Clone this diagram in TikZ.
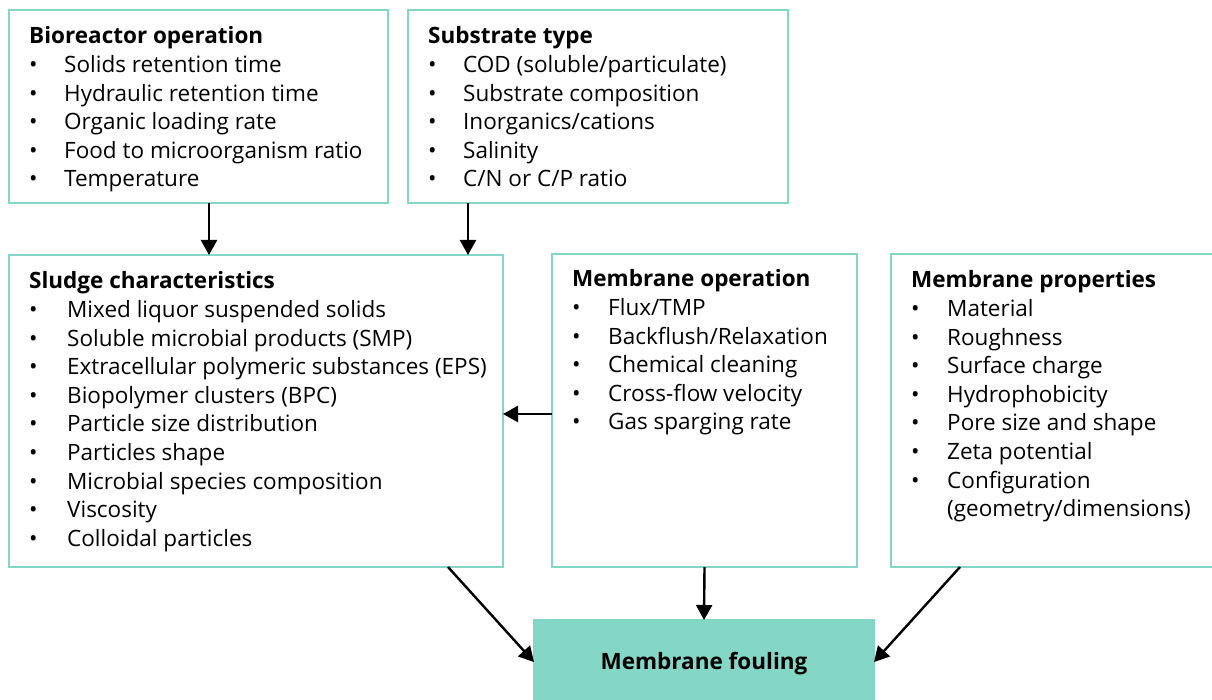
\documentclass[tikz,border=0pt]{standalone}
\usepackage{fontspec}
\setmainfont{Open Sans}
\usetikzlibrary{arrows.meta}
\definecolor{mfteal}{HTML}{84D7C7}
\newcommand\itm[1][35pt]{\makebox[#1][l]{•}\ignorespaces}
\begin{document}
\begin{tikzpicture}[x=1pt,y=-1pt,
  box/.style={draw=mfteal, line width=2pt, anchor=north west, inner sep=0pt, outer sep=0pt},
  txt/.style={anchor=base west, inner sep=0pt, font=\fontsize{22.5}{28.6}\selectfont},
  arr/.style={line width=2.4pt, -{Triangle[length=15pt,width=16pt]}}]
\useasboundingbox (0,0) rectangle (1212,700);
% boxes
\node[box, minimum width=379pt, minimum height=193pt] (bio) at (9,10) {};
\node[box, minimum width=380pt, minimum height=193pt] (sub) at (408,10) {};
\node[box, minimum width=494pt, minimum height=312pt] (sludge) at (9,255) {};
\node[box, minimum width=305pt, minimum height=313pt] (mop) at (552,254) {};
\node[box, minimum width=340pt, minimum height=313pt] (mprop) at (891,254) {};
\node[box, fill=mfteal, minimum width=340pt, minimum height=86pt] (foul) at (534,620) {};
\node[font=\fontsize{22.5}{26}\selectfont\bfseries, inner sep=0pt] (foult) at (704,664) {Membrane fouling};
% texts
\node[txt] (biot) at (29,44) {\begin{tabular}[t]{@{}l@{}}
\textbf{Bioreactor operation}\\
\itm Solids retention time\\
\itm Hydraulic retention time\\
\itm Organic loading rate\\
\itm Food to microorganism ratio\\
\itm Temperature
\end{tabular}};
\node[txt] (subt) at (428,44) {\begin{tabular}[t]{@{}l@{}}
\textbf{Substrate type}\\
\itm COD (soluble/particulate)\\
\itm Substrate composition\\
\itm Inorganics/cations\\
\itm Salinity\\
\itm C/N or C/P ratio
\end{tabular}};
\node[txt] (sludget) at (29,289) {\begin{tabular}[t]{@{}l@{}}
\textbf{Sludge characteristics}\\
\itm[38pt] Mixed liquor suspended solids\\
\itm[38pt] Soluble microbial products (SMP)\\
\itm[38pt] Extracellular polymeric substances (EPS)\\
\itm[38pt] Biopolymer clusters (BPC)\\
\itm[38pt] Particle size distribution\\
\itm[38pt] Particles shape\\
\itm[38pt] Microbial species composition\\
\itm[38pt] Viscosity\\
\itm[38pt] Colloidal particles
\end{tabular}};
\node[txt] (mopt) at (572,287) {\begin{tabular}[t]{@{}l@{}}
\textbf{Membrane operation}\\
\itm[36pt] Flux/TMP\\
\itm[36pt] Backflush/Relaxation\\
\itm[36pt] Chemical cleaning\\
\itm[36pt] Cross-flow velocity\\
\itm[36pt] Gas sparging rate
\end{tabular}};
\node[txt] (mpropt) at (911,288) {\begin{tabular}[t]{@{}l@{}}
\textbf{Membrane properties}\\
\itm[36pt] Material\\
\itm[36pt] Roughness\\
\itm[36pt] Surface charge\\
\itm[36pt] Hydrophobicity\\
\itm[36pt] Pore size and shape\\
\itm[36pt] Zeta potential\\
\itm[36pt] Configuration\\
\hspace{36pt}(geometry/dimensions)
\end{tabular}};
% connectors
\coordinate (x1) at (209,0);
\coordinate (x2) at (468,0);
\coordinate (y3) at (0,414);
\coordinate (x4) at (448,0);
\coordinate (x5) at (960,0);
\coordinate (y6) at (0,662);
\draw[arr] (bio.south -| x1) -- (sludge.north -| x1);
\draw[arr] (sub.south -| x2) -- (sludge.north -| x2);
\draw[arr] (mop.west |- y3) -- (sludge.east |- y3);
\draw[arr] (mop.south) -- (foul.north);
\draw[arr] (sludge.south -| x4) -- (foul.west |- y6);
\draw[arr] (mprop.south -| x5) -- (foul.east |- y6);
\end{tikzpicture}
\end{document}
